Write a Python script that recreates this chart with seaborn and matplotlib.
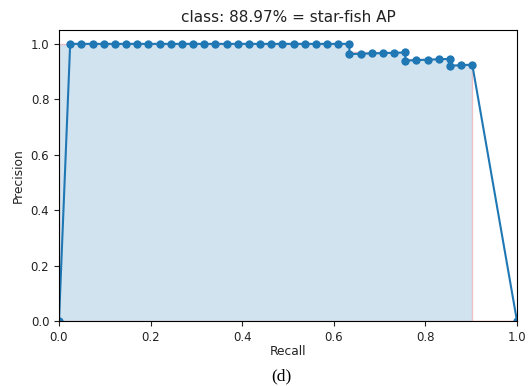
import matplotlib
matplotlib.use("Agg")
import matplotlib.pyplot as plt
import seaborn as sns
import pandas as pd

# Precision / recall pairs for the star-fish class (ranked detections),
# with the (0, 0) start and (1, 0) end points of the curve.
recall = [0.0,
          0.0244, 0.0488, 0.0732, 0.0976, 0.1220, 0.1463, 0.1707, 0.1951,
          0.2195, 0.2439, 0.2683, 0.2927, 0.3171, 0.3415, 0.3659, 0.3902,
          0.4146, 0.4390, 0.4634, 0.4878, 0.5122, 0.5366, 0.5610, 0.5854,
          0.6098, 0.6341,
          0.6341, 0.6585, 0.6829, 0.7073, 0.7317, 0.7561,
          0.7561, 0.7805, 0.8049, 0.8293, 0.8537,
          0.8537, 0.8780, 0.9024,
          1.0]
precision = [0.0,
             1.0, 1.0, 1.0, 1.0, 1.0, 1.0, 1.0, 1.0,
             1.0, 1.0, 1.0, 1.0, 1.0, 1.0, 1.0, 1.0,
             1.0, 1.0, 1.0, 1.0, 1.0, 1.0, 1.0, 1.0,
             1.0, 1.0,
             0.9630, 0.9643, 0.9655, 0.9667, 0.9677, 0.9688,
             0.9394, 0.9412, 0.9429, 0.9444, 0.9459,
             0.9211, 0.9231, 0.9250,
             0.0]
class_name = "star-fish"
ap_value = 88.97
x_ticks = [0.0, 0.2, 0.4, 0.6, 0.8, 1.0]
y_ticks = [0.0, 0.2, 0.4, 0.6, 0.8, 1.0]

df = pd.DataFrame({"Recall": recall, "Precision": precision})

# interpolated precision envelope (monotone from the right)
envelope = list(precision)
for i in range(len(envelope) - 2, -1, -1):
    envelope[i] = max(envelope[i], envelope[i + 1])
area_x = recall[:-1] + [recall[-2]] + [recall[-1]]
area_y = envelope[:-1] + [0.0] + [envelope[-1]]

fig = plt.figure(figsize=(5.31, 3.86), dpi=100)
ax = fig.add_axes([0.1111, 0.1684, 0.8625, 0.7539])

sns.lineplot(data=df, x="Recall", y="Precision", sort=False, estimator=None,
             marker="o", markersize=6, markeredgewidth=0, color="#1f77b4",
             linewidth=1.5, ax=ax)
ax.fill_between(area_x, 0, area_y, alpha=0.2, color="#1f77b4", edgecolor="r")

ax.set_xlim(0.0, 1.0)
ax.set_ylim(0.0, 1.05)
ax.set_xticks(x_ticks)
ax.set_yticks(y_ticks)
ax.tick_params(labelsize=8.5, length=3.5, colors="#222222")
ax.set_xlabel("Recall", fontsize=8.8, color="#222222", labelpad=1)
ax.set_ylabel("Precision", fontsize=8.8, color="#222222")
ax.set_title(f"class: {ap_value:.2f}% = {class_name} AP", fontsize=11, pad=6,
             color="#222222")

fig.text(0.529, 0.026, "(d)", ha="center", va="center",
         family="Liberation Serif", fontsize=12.5)

fig.savefig("out.png", dpi=100)
